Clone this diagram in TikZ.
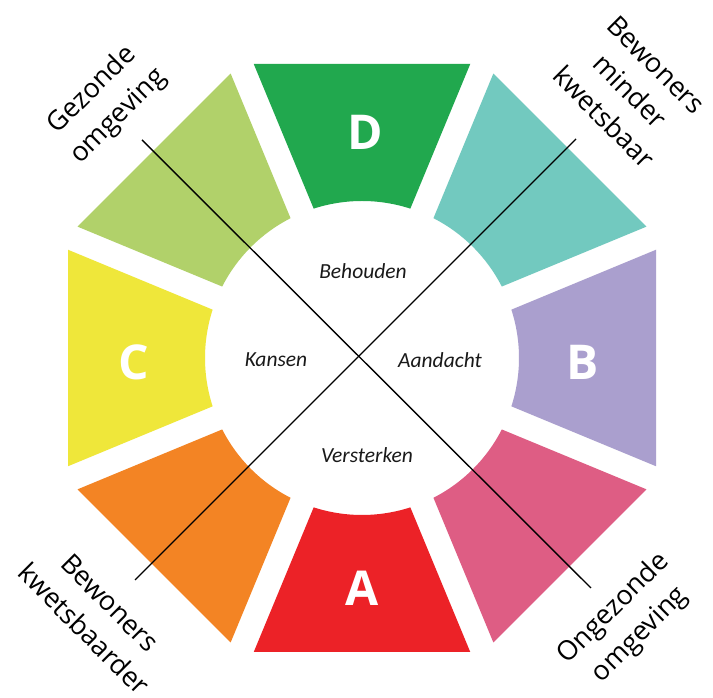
\documentclass[tikz,border=0pt]{standalone}
\usepackage{fontspec}
\setmainfont{Open Sans}
\newfontfamily\innerfont{Carlito}
\definecolor{cD}{HTML}{21A84E}
\definecolor{cLG}{HTML}{B1D16A}
\definecolor{cC}{HTML}{EFE73A}
\definecolor{cOr}{HTML}{F38424}
\definecolor{cA}{HTML}{EC2227}
\definecolor{cPk}{HTML}{DE5D84}
\definecolor{cB}{HTML}{AA9FCE}
\definecolor{cTl}{HTML}{72C9BF}
\newcommand{\Rout}{294}
\newcommand{\rin}{157}
\newcommand{\vout}{108.25}
\newcommand{\ang}{17.93}
\newcommand{\octseg}[2]{%
  \begin{scope}[rotate=#1]
    \fill[#2] (\ang:\rin) -- (\Rout,\vout) -- (\Rout,-\vout) -- (-\ang:\rin)
      arc[start angle=-\ang, end angle=\ang, radius=\rin] -- cycle;
  \end{scope}}
\tikzset{
  letter/.style={text=white, font=\fontsize{48}{50}\selectfont\bfseries},
  inner/.style={text=black!90, font=\innerfont\fontsize{21.5}{24}\selectfont\itshape},
  outer/.style={text=black, align=center, font=\fontsize{27}{37}\selectfont},
  axis/.style={draw=black, line width=1.4pt}
}
\begin{document}
\begin{tikzpicture}[x=1pt,y=1pt]
\useasboundingbox (0,0) rectangle (713,698);
\fill[white] (0,0) rectangle (713,698);
\begin{scope}[shift={(362,340)}]
  \octseg{90}{cD}
  \octseg{45}{cTl}
  \octseg{0}{cB}
  \octseg{-45}{cPk}
  \octseg{-90}{cA}
  \octseg{-135}{cOr}
  \octseg{180}{cC}
  \octseg{135}{cLG}
\end{scope}
\node[letter] (D) at (365,566) {D};
\node[letter] (C) at (134,336) {C};
\node[letter] (B) at (583,336) {B};
\node[letter] (A) at (362,110) {A};
\coordinate (l1a) at (142,558);
\coordinate (l1b) at (591,110);
\coordinate (l2a) at (576,559);
\coordinate (l2b) at (135,118);
\draw[axis] (l1a) -- (l1b);
\draw[axis] (l2a) -- (l2b);
\node[inner] (beh) at (363,427) {Behouden};
\node[inner] (kan) at (276,338) {Kansen};
\node[inner] (aan) at (440,338) {Aandacht};
\node[inner] (ver) at (367,243) {Versterken};
\node[outer, rotate=45] (go) at (105.5,594.5) {Gezonde\\omgeving};
\node[outer, rotate=-45] (bmk) at (630,607) {Bewoners\\minder\\kwetsbaar};
\node[outer, rotate=-45] (bk) at (97,82) {Bewoners\\kwetsbaarder};
\node[outer, rotate=45] (oo) at (627,76) {Ongezonde\\omgeving};
\end{tikzpicture}
\end{document}
